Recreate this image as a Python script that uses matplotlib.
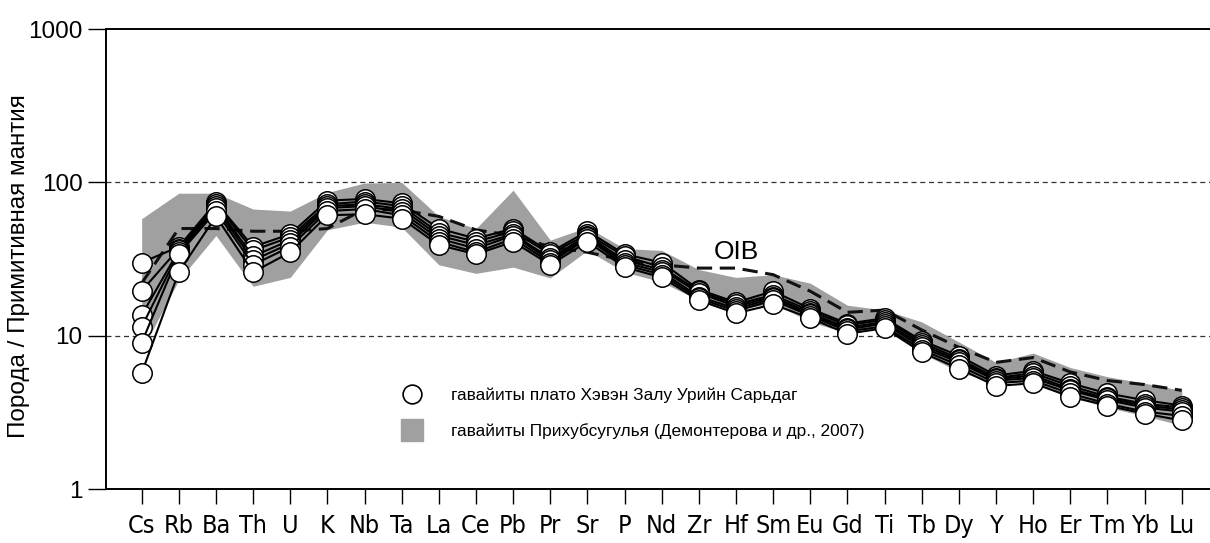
import matplotlib
matplotlib.use('Agg')
import matplotlib.pyplot as plt
from matplotlib.lines import Line2D
import numpy as np

elements = ['Cs', 'Rb', 'Ba', 'Th', 'U', 'K', 'Nb', 'Ta', 'La', 'Ce', 'Pb', 'Pr', 'Sr', 'P', 'Nd',
            'Zr', 'Hf', 'Sm', 'Eu', 'Gd', 'Ti', 'Tb', 'Dy', 'Y', 'Ho', 'Er', 'Tm', 'Yb', 'Lu']

# гавайиты плато Хэвэн Залу Урийн Сарьдаг (6 samples)
s1 = [30, 38, 74, 38, 46, 76, 78, 73, 50, 43, 50, 35, 48, 34, 30, 20, 16.5, 19.5, 15, 12, 13, 9.3, 7.4, 5.5, 5.9, 4.9, 4.2, 3.8, 3.5]
s2 = [19.6, 37, 72, 36, 44, 72, 75, 70, 47, 41, 48, 34, 46, 33, 28, 19.5, 16, 18.5, 14.5, 11.7, 12.7, 9, 7.1, 5.3, 5.7, 4.7, 4.0, 3.6, 3.4]
s3 = [13.6, 36, 70, 33, 42, 70, 72, 67, 45, 39, 46, 32, 45, 31, 27, 19, 15.5, 18, 14, 11.3, 12.3, 8.7, 6.9, 5.2, 5.5, 4.5, 3.9, 3.5, 3.3]
s4 = [11.4, 35, 68, 31, 40, 68, 70, 64, 43, 37, 45, 31, 44, 30, 26, 18, 15, 17.5, 13.8, 11, 12, 8.4, 6.7, 5.1, 5.3, 4.4, 3.8, 3.4, 3.2]
s5 = [9, 34, 65, 29, 38, 65, 67, 61, 41, 35, 43, 30, 43, 29, 25, 17.5, 14.5, 17, 13.5, 10.7, 11.5, 8.1, 6.4, 4.9, 5.1, 4.2, 3.6, 3.2, 3.0]
s6 = [5.7, 26, 60, 26, 35, 61, 62, 58, 39, 34, 41, 29, 41, 28, 24, 17, 14, 16, 13, 10.3, 11.2, 7.8, 6.1, 4.7, 4.9, 4.0, 3.5, 3.1, 2.8]
samples = [s1, s2, s3, s4, s5, s6]

# гавайиты Прихубсугулья - field
band_hi = [58, 85, 85, 67, 65, 86, 99, 100, 60, 50, 89, 42, 51, 37, 36, 27, 24, 25, 22, 15.8, 14.7, 12.3, 9.1, 6.7, 7.7, 6.2, 5.4, 4.9, 4.4]
band_lo = [8, 23, 45, 21, 24, 49, 55, 51, 29, 25.5, 28, 23.8, 36, 26, 22.4, 17, 14.7, 16.3, 12.3, 10.4, 11.2, 7.7, 5.8, 4.9, 5.0, 4.0, 3.4, 3.0, 2.6]

# OIB
oib = [22, 50, 50, 48, 48, 50, 67, 66, 60, 49, 45, 38, 35, 31, 29, 27.6, 27.6, 25, 19.5, 14.2, 14.7, 10.9, 8.4, 6.7, 7.2, 5.8, 5.1, 4.8, 4.4]

plt.rcParams['font.family'] = ['Liberation Sans', 'DejaVu Sans']

fig = plt.figure(figsize=(12.1, 5.43), dpi=100)
ax = fig.add_axes([0.0876, 0.0994, 0.9124, 0.8471])

x = np.arange(len(elements))
band_color = '#a0a0a0'

ax.fill_between(x, band_lo, band_hi, color=band_color, lw=0, zorder=1)
ax.plot(x, oib, color='#111111', lw=2.2, ls=(0, (5, 2.5)), zorder=2)
for s in samples:
    ax.plot(x, s, color='black', lw=1.5, zorder=3,
            marker='o', ms=14, mfc='white', mec='black', mew=1.1)

for v in (10, 100):
    ax.axhline(v, color='#333333', lw=0.9, ls=(0, (4, 3)), zorder=0)

ax.text(16, 35, 'OIB', fontsize=19, ha='center', va='center', zorder=4)

ax.set_yscale('log')
ax.set_ylim(1, 1000)
ax.set_xlim(-0.96, 28.76)
ax.set_yticks([1, 10, 100, 1000])
ax.set_yticklabels(['1', '10', '100', '1000'], fontsize=17.5)
ax.minorticks_off()
ax.set_xticks(x)
ax.set_xticklabels(elements, fontsize=18, family='DejaVu Sans', stretch='condensed')
ax.tick_params(axis='y', direction='out', length=13, width=1.0, pad=4)
ax.tick_params(axis='x', direction='out', length=11, width=1.0, pad=7)
ax.set_ylabel('Порода / Примитивная мантия', fontsize=17.5)
ax.yaxis.set_label_coords(-0.069, 0.485)

ax.spines['right'].set_visible(False)
for side in ('left', 'top', 'bottom'):
    ax.spines[side].set_linewidth(1.4)

handles = [
    Line2D([], [], ls='none', marker='o', ms=13.5, mfc='white', mec='black', mew=1.2),
    Line2D([], [], ls='none', marker='s', ms=16, mfc=band_color, mec=band_color),
]
labels = ['гавайиты плато Хэвэн Залу Урийн Сарьдаг',
          'гавайиты Прихубсугулья (Демонтерова и др., 2007)']
fig.legend(handles, labels, loc='center left', bbox_to_anchor=(0.3264, 0.2385),
           frameon=False, fontsize=12.4, handlelength=2.0, handletextpad=1.25,
           labelspacing=1.15, borderpad=0, borderaxespad=0)

fig.savefig('out.png', dpi=100)
